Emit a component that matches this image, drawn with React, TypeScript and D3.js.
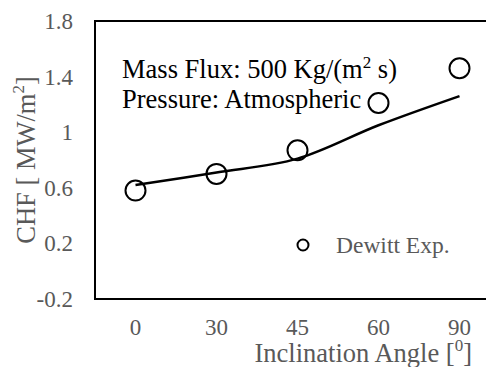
import React, { useEffect, useRef } from "react";
import * as d3 from "d3";

const W = 486;
const H = 367;

// inclination angle categories
const angles = ["0", "30", "45", "60", "90"];
// Dewitt experimental CHF [MW/m2]
const dewitt = [0.58, 0.7, 0.87, 1.21, 1.46];
// predicted CHF line
const model = [0.62, 0.71, 0.81, 1.05, 1.26];
const yTicks = [-0.2, 0.2, 0.6, 1, 1.4, 1.8];

const FONT = "'Liberation Serif', 'Times New Roman', serif";
const GRAY = "#595959";

const App: React.FC = () => {
  const svgRef = useRef<SVGSVGElement | null>(null);

  useEffect(() => {
    const svgEl = svgRef.current;
    if (!svgEl) return;
    const svg = d3.select(svgEl);
    svg.selectAll("*").remove();
    svg.style("background-color", "white");

    const left = 95;
    const top = 21;
    const bottom = 299;

    const x = d3.scaleBand<string>().domain(angles).range([left, left + 81 * 5]);
    const y = d3.scaleLinear().domain([-0.2, 1.8]).range([bottom, top]);
    const cx = (a: string) => (x(a) as number) + x.bandwidth() / 2;

    // plot area border
    svg
      .append("rect")
      .attr("x", left)
      .attr("y", top)
      .attr("width", x.bandwidth() * 5)
      .attr("height", bottom - top)
      .attr("fill", "none")
      .attr("stroke", "#000")
      .attr("stroke-width", 2);

    // y tick labels
    svg
      .append("g")
      .selectAll("text")
      .data(yTicks)
      .enter()
      .append("text")
      .attr("x", 73)
      .attr("y", (d) => y(d))
      .attr("dy", "0.35em")
      .attr("text-anchor", "end")
      .attr("font-family", FONT)
      .attr("font-size", 23)
      .attr("fill", GRAY)
      .text((d) => String(d));

    // x tick labels
    svg
      .append("g")
      .selectAll("text")
      .data(angles)
      .enter()
      .append("text")
      .attr("x", (d) => cx(d))
      .attr("y", 335)
      .attr("text-anchor", "middle")
      .attr("font-family", FONT)
      .attr("font-size", 23)
      .attr("fill", GRAY)
      .text((d) => d);

    // model line
    const line = d3
      .line<number>()
      .x((_, i) => cx(angles[i]))
      .y((d) => y(d))
      .curve(d3.curveCatmullRom);
    svg
      .append("path")
      .datum(model)
      .attr("d", line)
      .attr("fill", "none")
      .attr("stroke", "#000")
      .attr("stroke-width", 2.5);

    // experimental points
    svg
      .append("g")
      .selectAll("circle")
      .data(dewitt)
      .enter()
      .append("circle")
      .attr("cx", (_, i) => cx(angles[i]))
      .attr("cy", (d) => y(d))
      .attr("r", 10)
      .attr("fill", "none")
      .attr("stroke", "#000")
      .attr("stroke-width", 2);

    // legend
    svg
      .append("circle")
      .attr("cx", 303)
      .attr("cy", 245)
      .attr("r", 5.5)
      .attr("fill", "none")
      .attr("stroke", "#000")
      .attr("stroke-width", 2);
    svg
      .append("text")
      .attr("x", 336)
      .attr("y", 245)
      .attr("dy", "0.35em")
      .attr("font-family", FONT)
      .attr("font-size", 23.5)
      .attr("fill", GRAY)
      .text("Dewitt Exp.");

    // annotation
    const t1 = svg
      .append("text")
      .attr("x", 122)
      .attr("y", 78)
      .attr("font-family", FONT)
      .attr("font-size", 26.5)
      .attr("fill", "#000");
    t1.append("tspan").text("Mass Flux: 500 Kg/(m");
    t1.append("tspan").attr("dy", -10).attr("font-size", 17).text("2");
    t1.append("tspan").attr("dy", 10).text(" s)");

    svg
      .append("text")
      .attr("x", 122)
      .attr("y", 108)
      .attr("font-family", FONT)
      .attr("font-size", 26.5)
      .attr("fill", "#000")
      .text("Pressure: Atmospheric");

    // axis titles
    const xt = svg
      .append("text")
      .attr("x", 472)
      .attr("y", 362)
      .attr("text-anchor", "end")
      .attr("font-family", FONT)
      .attr("font-size", 26.5)
      .attr("fill", GRAY);
    xt.append("tspan").text("Inclination Angle [");
    xt.append("tspan").attr("dy", -11).attr("font-size", 17).text("0");
    xt.append("tspan").attr("dy", 11).text("]");

    const yt = svg
      .append("text")
      .attr("transform", "translate(35,160) rotate(-90)")
      .attr("text-anchor", "middle")
      .attr("font-family", FONT)
      .attr("font-size", 26.5)
      .attr("fill", GRAY);
    yt.append("tspan").text("CHF [ MW/m");
    yt.append("tspan").attr("dy", -11).attr("font-size", 17).text("2");
    yt.append("tspan").attr("dy", 11).text("]");
  }, []);

  return (
    <div>
      <svg
        ref={svgRef}
        width={W}
        height={H}
        style={{ position: "absolute", left: 0, top: 0 }}
      ></svg>
    </div>
  );
};

export default App;
